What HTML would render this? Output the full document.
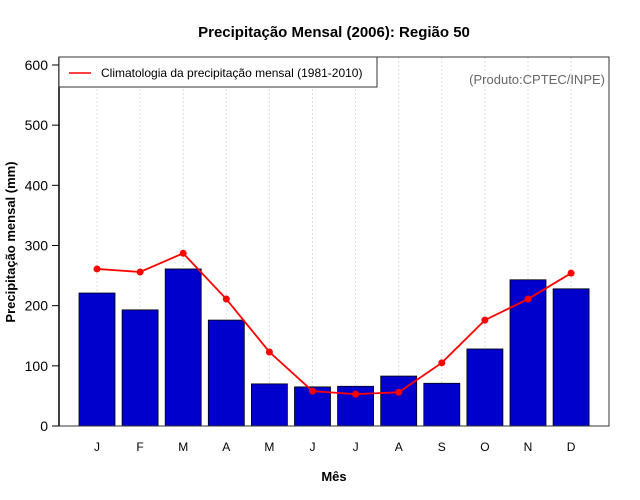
<!DOCTYPE html>
<html><head><meta charset="utf-8"><style>body{margin:0;background:#fff}svg{display:block;font-family:"Liberation Sans",sans-serif}</style></head>
<body>
<svg id="chart" width="640" height="500">
<rect width="640" height="500" fill="#fff"/>
<text x="334" y="37" text-anchor="middle" font-size="15" font-weight="bold">Precipitação Mensal (2006): Região 50</text>
<text x="334" y="481" text-anchor="middle" font-size="13" font-weight="bold">Mês</text>
<text transform="translate(15,242) rotate(-90)" text-anchor="middle" font-size="13" font-weight="bold">Precipitação mensal (mm)</text>
<g id="grid"></g><g id="bars"></g><g id="line"></g><g id="axes"></g>
<rect x="59" y="57" width="550" height="369" fill="none" stroke="#333" stroke-width="1"/>
<line x1="59" y1="57" x2="59" y2="426" stroke="#000" stroke-width="1.5"/>
<g>
<rect x="59" y="57" width="318" height="30" fill="#fff" stroke="#333"/>
<line x1="69" y1="73" x2="91" y2="73" stroke="red" stroke-width="1.5"/>
<text x="101" y="77" font-size="12">Climatologia da precipitação mensal (1981-2010)</text>
</g>
<text x="605" y="84" text-anchor="end" font-size="13" fill="#666">(Produto:CPTEC/INPE)</text>
</svg>
<script>
const months = ["J","F","M","A","M","J","J","A","S","O","N","D"];
const precip2006 = [221,193,261,176,70,65,66,83,71,128,243,228];
const climatology = [261,256,287,211,123,58,53,56,105,176,211,254];
const yTicks = [0,100,200,300,400,500,600];
const NS="http://www.w3.org/2000/svg";
const xS = i => 97 + i*43.1;
const yS = v => 426 - v*0.6017;
function mk(tag, attrs, parent){const e=document.createElementNS(NS,tag);for(const k in attrs)e.setAttribute(k,attrs[k]);parent.appendChild(e);return e;}
const grid=document.getElementById('grid'),bars=document.getElementById('bars'),line=document.getElementById('line'),axes=document.getElementById('axes');
months.forEach((m,i)=>{
  const g=mk('line',{x1:xS(i),x2:xS(i),y1:57,y2:426,stroke:'#ddd','stroke-dasharray':'2,2'},grid);
  
  
  const b=mk('rect',{x:xS(i)-18,y:yS(precip2006[i]),width:36,height:426-yS(precip2006[i]),fill:'#0000cd',stroke:'#000','stroke-width':0.8},bars);
  
  
  const t=mk('text',{x:xS(i),y:451,'text-anchor':'middle','font-size':12},axes);
  t.textContent=m;
  
  
});
const pl=mk('polyline',{points:climatology.map((v,i)=>xS(i)+','+yS(v)).join(' '),fill:'none',stroke:'red','stroke-width':1.8},line);


climatology.forEach((v,i)=>{
  const c=mk('circle',{cx:xS(i),cy:yS(v),r:3.5,fill:'red'},line);
  
  
});
yTicks.forEach(v=>{
  const l=mk('line',{x1:52,x2:59,y1:yS(v),y2:yS(v),stroke:'#000'},axes);
  
  
  const t=mk('text',{x:48,y:yS(v)+5,'text-anchor':'end','font-size':14},axes);
  t.textContent=v;
  
  
});
</script>
</body></html>
